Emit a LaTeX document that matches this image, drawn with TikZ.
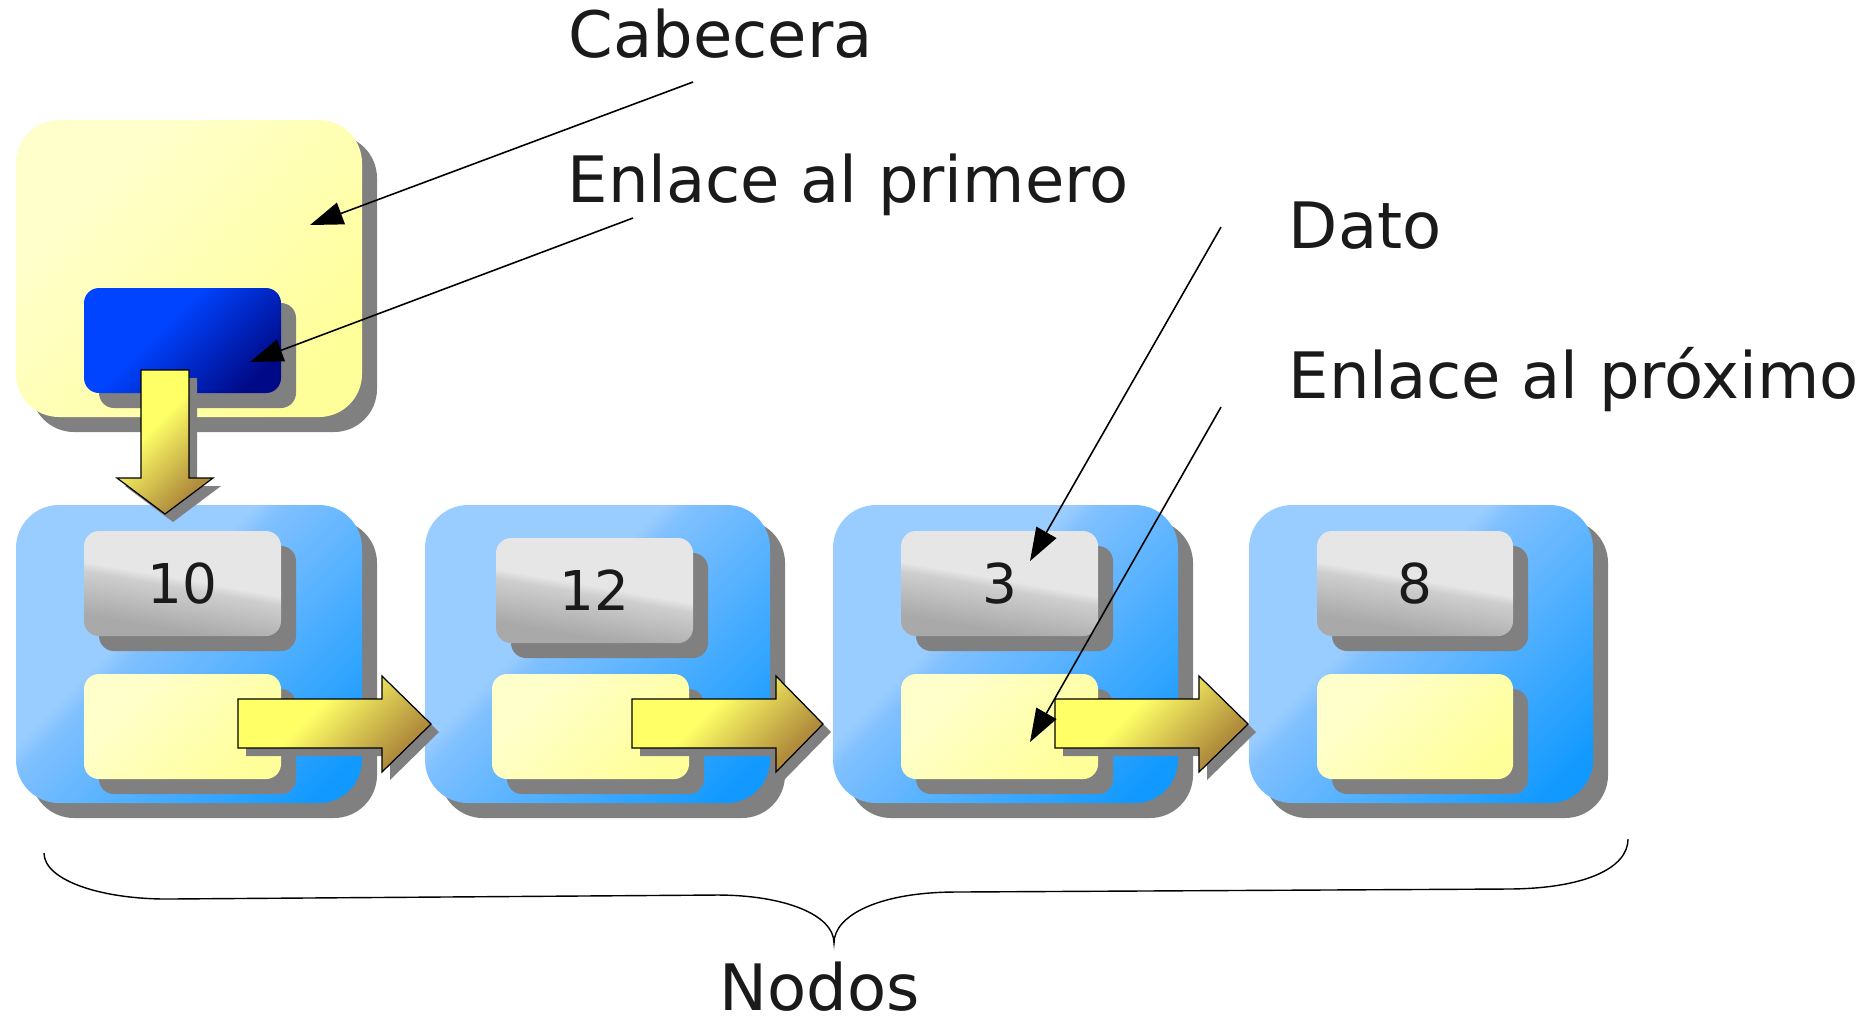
\documentclass[tikz,border=0pt]{standalone}
\usepackage{fontspec}
\setmainfont{DejaVu Sans}
\usetikzlibrary{arrows.meta}
\definecolor{dropgray}{HTML}{808080}
\definecolor{bluelight}{HTML}{99CCFF}
\definecolor{bluemid}{HTML}{80C0FF}
\definecolor{bluedark}{HTML}{1199FF}
\definecolor{linklight}{HTML}{0044FF}
\definecolor{linkdark}{HTML}{000A88}
\definecolor{graylight}{HTML}{E6E6E6}
\definecolor{graymid}{HTML}{CECECE}
\definecolor{graydark}{HTML}{A9A9A9}
\definecolor{paleyellow}{HTML}{FFFFCC}
\definecolor{paleyellowdark}{HTML}{FFFF9A}
\definecolor{arrowyellow}{HTML}{FFFF66}
\definecolor{arrowgold}{HTML}{B08C3C}
\definecolor{inktext}{HTML}{1A1A1A}
\pgfdeclarehorizontalshading{nodeblue}{100bp}{color(0bp)=(bluelight); color(41bp)=(bluelight); color(44bp)=(bluemid); color(80bp)=(bluedark); color(100bp)=(bluedark)}
\pgfdeclarehorizontalshading{linkblue}{100bp}{color(0bp)=(linklight); color(42bp)=(linklight); color(76bp)=(linkdark); color(100bp)=(linkdark)}
\pgfdeclarehorizontalshading{paleshade}{100bp}{color(0bp)=(paleyellow); color(30bp)=(paleyellow); color(75bp)=(paleyellowdark); color(100bp)=(paleyellowdark)}
\pgfdeclarehorizontalshading{goldshade}{100bp}{color(0bp)=(arrowyellow); color(42bp)=(arrowyellow); color(72bp)=(arrowgold); color(100bp)=(arrowgold)}
\pgfdeclareverticalshading{grayshade}{100bp}{color(0bp)=(graydark); color(30bp)=(graydark); color(48bp)=(graymid); color(52bp)=(graylight); color(100bp)=(graylight)}

\begin{document}
\begin{tikzpicture}[x=0.01cm,y=-0.01cm,
  bigbox/.style={rounded corners=0.43cm},
  smallbox/.style={rounded corners=0.15cm},
  boxdrop/.style={fill=dropgray,shift={(15,15)}},
  arrowdrop/.style={fill=dropgray,shift={(8,8)}},
  nodefill/.style={bigbox,shading=nodeblue,shading angle=-45},
  datafill/.style={smallbox,shading=grayshade,shading angle=-10},
  linkfill/.style={smallbox,shading=paleshade,shading angle=-45},
  blockarrow/.style={draw=black,line width=0.35pt,shading=goldshade,shading angle=-45},
  callout/.style={line width=0.45pt,-{Triangle[length=9.4pt,width=6.5pt]}},
  captext/.style={inner sep=0pt,text=inktext,font=\fontsize{18.2}{22}\selectfont},
  numtext/.style={inner sep=0pt,text=inktext,font=\fontsize{15.6}{19}\selectfont}]
\useasboundingbox (0,0) rectangle (1874,1020);
% header
\fill[boxdrop,bigbox] (16,120) rectangle (362,417);
\shade[bigbox,shading=paleshade,shading angle=-45] (16,120) rectangle (362,417);
\fill[boxdrop,smallbox] (84,288) rectangle (281,393);
\shade[smallbox,shading=linkblue,shading angle=-45] (84,288) rectangle (281,393);
% node 10
\fill[boxdrop,bigbox] (16,505) rectangle (362,803);
\shade[nodefill] (16,505) rectangle (362,803);
\fill[boxdrop,smallbox] (84,531) rectangle (281,636);
\shade[datafill] (84,531) rectangle (281,636);
\fill[boxdrop,smallbox] (84,674) rectangle (281,779);
\shade[linkfill] (84,674) rectangle (281,779);
\node[numtext] (dato1) at (182.5,583.5) {10};
% node 12
\fill[boxdrop,bigbox] (425,505) rectangle (770,803);
\shade[nodefill] (425,505) rectangle (770,803);
\fill[boxdrop,smallbox] (496,538) rectangle (693,643);
\shade[datafill] (496,538) rectangle (693,643);
\fill[boxdrop,smallbox] (492,674) rectangle (689,779);
\shade[linkfill] (492,674) rectangle (689,779);
\node[numtext] (dato2) at (594.5,590.5) {12};
% node 3
\fill[boxdrop,bigbox] (833,505) rectangle (1178,803);
\shade[nodefill] (833,505) rectangle (1178,803);
\fill[boxdrop,smallbox] (901,531) rectangle (1098,636);
\shade[datafill] (901,531) rectangle (1098,636);
\fill[boxdrop,smallbox] (901,674) rectangle (1098,779);
\shade[linkfill] (901,674) rectangle (1098,779);
\node[numtext] (dato3) at (999.5,583.5) {3};
% node 8
\fill[boxdrop,bigbox] (1249,505) rectangle (1593,803);
\shade[nodefill] (1249,505) rectangle (1593,803);
\fill[boxdrop,smallbox] (1317,531) rectangle (1513,636);
\shade[datafill] (1317,531) rectangle (1513,636);
\fill[boxdrop,smallbox] (1317,674) rectangle (1513,779);
\shade[linkfill] (1317,674) rectangle (1513,779);
\node[numtext] (dato4) at (1415,583.5) {8};
% block arrows
\fill[arrowdrop] (141,370) -- (189,370) -- (189,478) -- (213,478) -- (165,514) -- (117,478) -- (141,478) -- cycle;
\shadedraw[blockarrow] (141,370) -- (189,370) -- (189,478) -- (213,478) -- (165,514) -- (117,478) -- (141,478) -- cycle;
\fill[arrowdrop] (238,699) -- (382,699) -- (382,676) -- (431,724) -- (382,772) -- (382,748) -- (238,748) -- cycle;
\shadedraw[blockarrow] (238,699) -- (382,699) -- (382,676) -- (431,724) -- (382,772) -- (382,748) -- (238,748) -- cycle;
\fill[arrowdrop] (632,699) -- (776,699) -- (776,676) -- (823,724) -- (776,772) -- (776,748) -- (632,748) -- cycle;
\shadedraw[blockarrow] (632,699) -- (776,699) -- (776,676) -- (823,724) -- (776,772) -- (776,748) -- (632,748) -- cycle;
\fill[arrowdrop] (1055,699) -- (1199,699) -- (1199,676) -- (1248,724) -- (1199,772) -- (1199,748) -- (1055,748) -- cycle;
\shadedraw[blockarrow] (1055,699) -- (1199,699) -- (1199,676) -- (1248,724) -- (1199,772) -- (1199,748) -- (1055,748) -- cycle;
% labels
\node[captext,anchor=base west] (cabecera) at (568,57) {Cabecera};
\node[captext,anchor=base west] (primero) at (567,202) {Enlace al primero};
\node[captext,anchor=base west] (dato) at (1288,248) {Dato};
\node[captext,anchor=base west] (proximo) at (1288,398) {Enlace al próximo};
\node[captext,anchor=base] (nodos) at (820,1010) {Nodos};
% callout lines
\coordinate (cabtail) at (693,82);
\coordinate (cabtip) at (310,225);
\coordinate (pritail) at (633,218);
\coordinate (pritip) at (250,362);
\coordinate (datotail) at (1221,227);
\coordinate (datotip) at (1030,561);
\coordinate (proxtail) at (1221,407);
\coordinate (proxtip) at (1030,742);
\draw[callout] (cabtail) -- (cabtip);
\draw[callout] (pritail) -- (pritip);
\draw[callout] (datotail) -- (datotip);
\draw[callout] (proxtail) -- (proxtip);
% brace
\draw[line width=0.4pt] (44,853) .. controls (44,880) and (100,899) .. (167,899) -- (717,895)
  .. controls (785,895) and (834,915) .. (834,943) .. controls (834,915) and (880,892) .. (956,892)
  -- (1506,889) .. controls (1585,889) and (1628,868) .. (1628,839);
\end{tikzpicture}
\end{document}
